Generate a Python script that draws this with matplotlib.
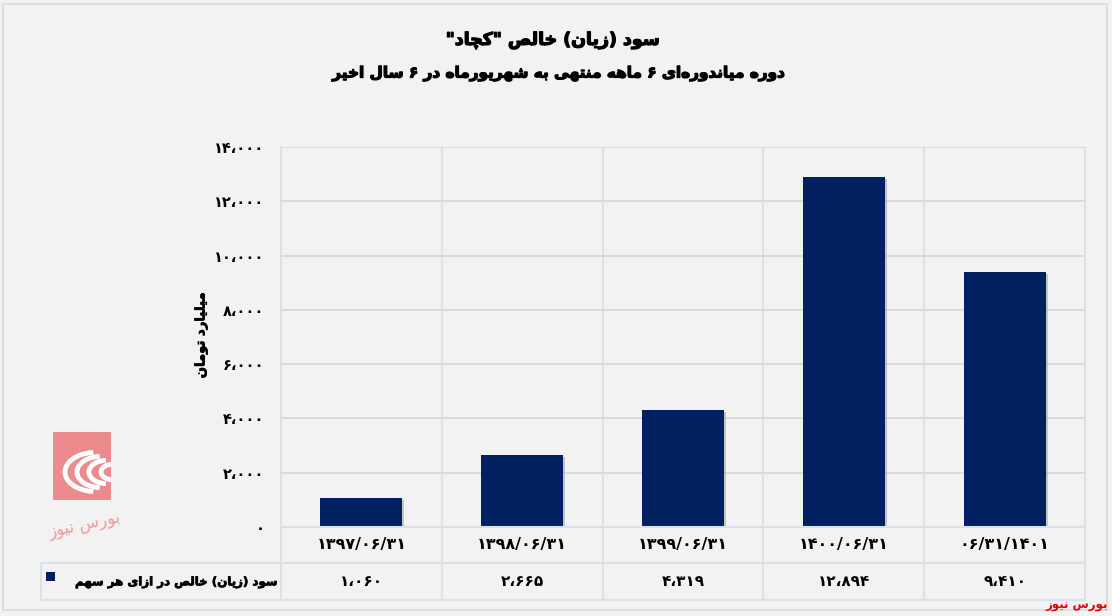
import matplotlib
matplotlib.use("Agg")
import matplotlib.pyplot as plt
from matplotlib.patches import Rectangle, Arc
from matplotlib.lines import Line2D
import matplotlib.transforms as mtrans
import matplotlib.patheffects as pe

# ---------------- data ----------------
categories = ["۱۳۹۷/۰۶/۳۱", "۱۳۹۸/۰۶/۳۱", "۱۳۹۹/۰۶/۳۱", "۱۴۰۰/۰۶/۳۱", "۰۶/۳۱/۱۴۰۱"]
values = [1060, 2665, 4319, 12894, 9410]
yticks = [0, 2000, 4000, 6000, 8000, 10000, 12000, 14000]
title1 = 'سود (زیان) خالص "کچاد"'
title2 = "دوره میاندوره\u200cای ۶ ماهه منتهی به شهریورماه در ۶ سال اخیر"
ylabel = "میلیارد تومان"
series_name = "سود (زیان) خالص در ازای هر سهم"
source = "بورس نیوز"

# ---------------- minimal Arabic/Persian shaping ----------------
DUAL = {
    'ب': (0xFE8F, 0xFE90, 0xFE91, 0xFE92), 'پ': (0xFB56, 0xFB57, 0xFB58, 0xFB59),
    'ت': (0xFE95, 0xFE96, 0xFE97, 0xFE98), 'ث': (0xFE99, 0xFE9A, 0xFE9B, 0xFE9C),
    'ج': (0xFE9D, 0xFE9E, 0xFE9F, 0xFEA0), 'چ': (0xFB7A, 0xFB7B, 0xFB7C, 0xFB7D),
    'ح': (0xFEA1, 0xFEA2, 0xFEA3, 0xFEA4), 'خ': (0xFEA5, 0xFEA6, 0xFEA7, 0xFEA8),
    'س': (0xFEB1, 0xFEB2, 0xFEB3, 0xFEB4), 'ش': (0xFEB5, 0xFEB6, 0xFEB7, 0xFEB8),
    'ص': (0xFEB9, 0xFEBA, 0xFEBB, 0xFEBC), 'ض': (0xFEBD, 0xFEBE, 0xFEBF, 0xFEC0),
    'ط': (0xFEC1, 0xFEC2, 0xFEC3, 0xFEC4), 'ظ': (0xFEC5, 0xFEC6, 0xFEC7, 0xFEC8),
    'ع': (0xFEC9, 0xFECA, 0xFECB, 0xFECC), 'غ': (0xFECD, 0xFECE, 0xFECF, 0xFED0),
    'ف': (0xFED1, 0xFED2, 0xFED3, 0xFED4), 'ق': (0xFED5, 0xFED6, 0xFED7, 0xFED8),
    'ک': (0xFB8E, 0xFB8F, 0xFB90, 0xFB91), 'گ': (0xFB92, 0xFB93, 0xFB94, 0xFB95),
    'ل': (0xFEDD, 0xFEDE, 0xFEDF, 0xFEE0), 'م': (0xFEE1, 0xFEE2, 0xFEE3, 0xFEE4),
    'ن': (0xFEE5, 0xFEE6, 0xFEE7, 0xFEE8), 'ه': (0xFEE9, 0xFEEA, 0xFEEB, 0xFEEC),
    'ی': (0xFBFC, 0xFBFD, 0xFBFE, 0xFBFF), 'ئ': (0xFE89, 0xFE8A, 0xFE8B, 0xFE8C),
}
RIGHT = {
    'ا': (0xFE8D, 0xFE8E), 'آ': (0xFE81, 0xFE82), 'د': (0xFEA9, 0xFEAA),
    'ذ': (0xFEAB, 0xFEAC), 'ر': (0xFEAD, 0xFEAE), 'ز': (0xFEAF, 0xFEB0),
    'ژ': (0xFB8A, 0xFB8B), 'و': (0xFEED, 0xFEEE),
}
DIGITS = set("۰۱۲۳۴۵۶۷۸۹0123456789")


def shape(text):
    out = []
    n = len(text)
    for i, c in enumerate(text):
        prev = text[i - 1] if i > 0 else None
        nxt = text[i + 1] if i + 1 < n else None
        jp = prev in DUAL
        if c in DUAL:
            jn = (nxt in DUAL) or (nxt in RIGHT)
            f = DUAL[c]
            if jp and jn:
                out.append(chr(f[3]))
            elif jp:
                out.append(chr(f[1]))
            elif jn:
                out.append(chr(f[2]))
            else:
                out.append(chr(f[0]))
        elif c in RIGHT:
            f = RIGHT[c]
            out.append(chr(f[1]) if jp else chr(f[0]))
        elif c == '\u200c':
            continue
        else:
            out.append(c)
    tokens = []
    for ch in out:
        if ch in DIGITS and tokens and tokens[-1][0] in DIGITS:
            tokens[-1] += ch
        else:
            tokens.append(ch)
    tokens.reverse()
    mirror = {'(': ')', ')': '('}
    return ''.join(mirror.get(t, t) for t in tokens)


FA = str.maketrans("0123456789,", "۰۱۲۳۴۵۶۷۸۹،")


def fa_num(v):
    return f"{int(round(v)):,}".translate(FA)


# ---------------- figure ----------------
W, H = 1112, 616
BG = "#F2F2F2"
BAR = "#002060"
GRID = "#D9D9D9"
TLINE = "#DCE1E8"
FONT = ["DejaVu Sans"]
HEAVY = [pe.withStroke(linewidth=0.9, foreground="black")]

fig = plt.figure(figsize=(W / 100, H / 100), dpi=100, facecolor=BG)


def fx(px):
    return px / W


def fy(py):
    return 1 - py / H


x_left, x_right = 281, 1085
y_top, y_bot = 147, 527
ax = fig.add_axes([fx(x_left), fy(y_bot), fx(x_right - x_left), (y_bot - y_top) / H])
ax.set_facecolor(BG)
n = len(categories)
xs = list(range(n))
ax.set_xlim(-0.5, n - 0.5)
ax.set_ylim(0, 14000)

bars = ax.bar(xs, values, width=0.51, color=BAR, zorder=3)
for b in bars:
    b.set_path_effects([pe.SimplePatchShadow(offset=(1.5, -1.5), shadow_rgbFace="#9a9a9a", alpha=0.5), pe.Normal()])

ax.set_yticks(yticks)
ax.set_yticklabels([fa_num(t) for t in yticks], fontfamily=FONT, fontweight="bold", fontsize=10.5)
ax.tick_params(axis="y", length=0, pad=12)
ax.set_xticks([])
ax.yaxis.grid(True, color=GRID, linewidth=1.3, zorder=0)
for s in ax.spines.values():
    s.set_visible(False)

for k in range(n + 1):
    ax.plot([k - 0.5, k - 0.5], [0, 14000], color=TLINE, lw=1.3, zorder=1, clip_on=False)

# y label
fig.text(fx(201), fy(335), shape(ylabel), rotation=90, ha="center", va="center",
         fontfamily=FONT, fontweight="bold", fontsize=9.5, path_effects=[pe.withStroke(linewidth=0.5, foreground="black")])

# titles
fig.text(fx(553), fy(40), shape(title1), ha="center", va="center",
         fontfamily=FONT, fontweight="bold", fontsize=12.5, path_effects=HEAVY)
fig.text(fx(558), fy(74), shape(title2), ha="center", va="center",
         fontfamily=FONT, fontweight="bold", fontsize=11, path_effects=HEAVY)

# ---------------- data table ----------------
blend = mtrans.blended_transform_factory(ax.transData, fig.transFigure)
row1_top, row1_bot, row2_bot = 527, 563, 600
leg_left = 41
fig.add_artist(Line2D([fx(x_left), fx(x_right)], [fy(row1_top)] * 2, color=TLINE, lw=1.5))
fig.add_artist(Line2D([fx(leg_left), fx(x_right)], [fy(row1_bot)] * 2, color=TLINE, lw=1.5))
fig.add_artist(Line2D([fx(leg_left), fx(x_right)], [fy(row2_bot)] * 2, color=TLINE, lw=1.5))
for k in range(n + 1):
    xk = x_left + k * (x_right - x_left) / n
    fig.add_artist(Line2D([fx(xk)] * 2, [fy(row1_top), fy(row2_bot)], color=TLINE, lw=1.5))
fig.add_artist(Line2D([fx(leg_left)] * 2, [fy(row1_bot), fy(row2_bot)], color=TLINE, lw=1.5))

for i, (c, v) in enumerate(zip(categories, values)):
    ax.text(i, fy((row1_top + row1_bot) / 2), c, transform=blend, ha="center", va="center",
            fontfamily=FONT, fontweight="bold", fontsize=11.5, clip_on=False)
    ax.text(i, fy((row1_bot + row2_bot) / 2), fa_num(v), transform=blend, ha="center", va="center",
            fontfamily=FONT, fontweight="bold", fontsize=11, clip_on=False)

fig.text(fx(277), fy(582), shape(series_name), ha="right", va="center",
         fontfamily=FONT, fontweight="bold", fontsize=8.5, path_effects=[pe.withStroke(linewidth=0.5, foreground="black")])
fig.add_artist(Rectangle((fx(46), fy(581)), fx(9), 9 / H, facecolor=BAR, edgecolor="none",
                         transform=fig.transFigure))

# outer border
fig.add_artist(Rectangle((fx(3), fy(610)), fx(1104), 606 / H, facecolor="none",
                         edgecolor=GRID, lw=1.2, transform=fig.transFigure))

# source tag
fig.text(fx(1108), fy(606), shape(source), ha="right", va="center", color="#E00000",
         fontfamily=FONT, fontweight="bold", fontsize=8.5)

# ---------------- watermark logo ----------------
PINK = "#EC8A8E"
lax = fig.add_axes([fx(45), fy(550), fx(80), 120 / H])
lax.set_xlim(0, 80)
lax.set_ylim(0, 120)
lax.axis("off")
lax.add_patch(Rectangle((8, 50), 58, 68, facecolor=PINK, edgecolor="none"))
for r, cx in [(30, 40), (24, 46), (18, 52), (12, 58)]:
    lax.add_patch(Arc((cx + 10, 78), 2 * r, 1.3 * r, theta1=95, theta2=265, color="white", lw=3.5))
lax.text(40, 25, shape(source), ha="center", va="center", color=PINK, fontsize=12,
         fontfamily=FONT, rotation=12, alpha=0.85)

fig.savefig("out.png", dpi=100, facecolor=BG)
